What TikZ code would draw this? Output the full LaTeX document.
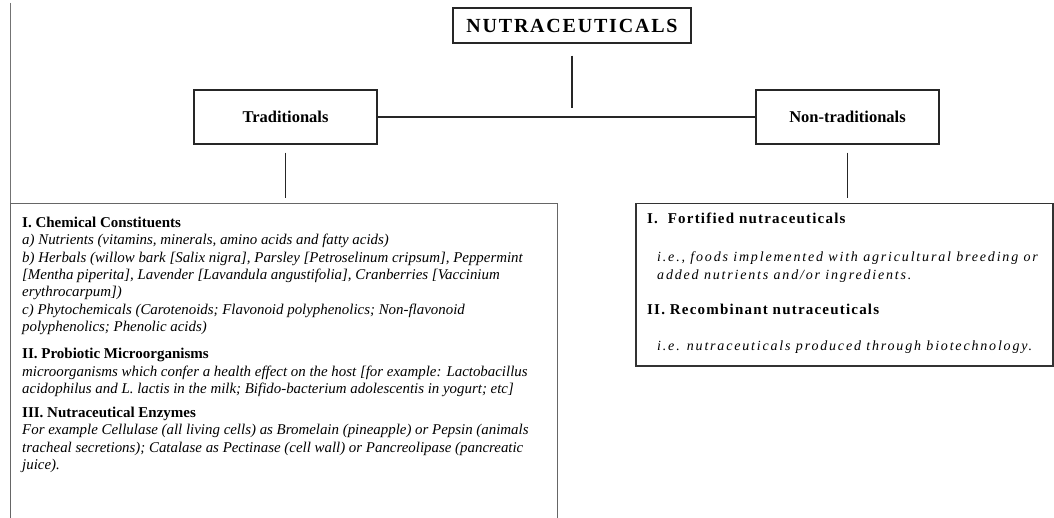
\documentclass[tikz,border=0pt]{standalone}
\usepackage{fontspec}
\setmainfont{Liberation Serif}
\newfontfamily\titlefont[LetterSpace=9]{Liberation Serif}
\newfontfamily\spacedfont[LetterSpace=8]{Liberation Serif}
\newfontfamily\widefont[LetterSpace=13]{Liberation Serif}

\begin{document}
\begin{tikzpicture}[x=1pt,y=-1pt,
  topbox/.style={draw=black!85,line width=1.3pt,fill=white,inner sep=0pt,minimum width=238pt,minimum height=35pt,font=\titlefont\bfseries\fontsize{20}{24}\selectfont},
  catbox/.style={draw=black!85,line width=1.3pt,fill=white,inner sep=0pt,minimum width=183pt,minimum height=54pt,font=\bfseries\fontsize{16.5}{20}\selectfont},
  listbox/.style={draw=black!80,line width=1.1pt,fill=white,inner sep=0pt,anchor=north west},
  listtext/.style={anchor=north west,align=left,inner sep=0pt,font=\itshape\fontsize{14.9}{17.3}\selectfont},
  link/.style={draw=black!85,line width=1.1pt}
]
\clip (0,0) rectangle (1054,518);
\fill[white] (0,0) rectangle (1054,518);

\node[topbox] (nutra) at (572,25.5) {NUTRACEUTICALS};
\node[catbox] (trad) at (285.5,117) {Traditionals};
\node[catbox] (nontrad) at (847.5,117) {Non-traditionals};

\node[listbox,draw=black!60,minimum width=547pt,minimum height=330pt] (tradlist) at (10,203) {};
\node[listbox,line width=1.5pt,minimum width=417pt,minimum height=162pt] (ntlist) at (635,203) {};
\coordinate (edge) at (10,3);

\node[listtext] (tradtext) at (22,217) {%
{\upshape\bfseries\fontsize{15}{17.3}\selectfont I. Chemical Constituents}\\
a) Nutrients (vitamins, minerals, amino acids and fatty acids)\\
b) Herbals (willow bark [Salix nigra], Parsley [Petroselinum cripsum], Peppermint\\
{}[Mentha piperita], Lavender [Lavandula angustifolia], Cranberries [Vaccinium\\
erythrocarpum])\\
c) Phytochemicals (Carotenoids; Flavonoid polyphenolics; Non-flavonoid\\
polyphenolics; Phenolic acids)\\[10pt]
{\upshape\bfseries\fontsize{15}{17.3}\selectfont II. Probiotic Microorganisms}\\
microorganisms which confer a health effect on the host [for example: Lactobacillus\\
acidophilus and L. lactis in the milk; Bifido-bacterium adolescentis in yogurt; etc]\\[7pt]
{\upshape\bfseries\fontsize{15}{17.3}\selectfont III. Nutraceutical Enzymes}\\
For example Cellulase (all living cells) as Bromelain (pineapple) or Pepsin (animals\\
tracheal secretions); Catalase as Pectinase (cell wall) or Pancreolipase (pancreatic\\
juice).};

\node[listtext,font=\widefont\itshape\fontsize{14}{18}\selectfont] (nttext) at (647,213) {%
{\spacedfont\upshape\bfseries\fontsize{15}{18}\selectfont I.\ \ Fortified nutraceuticals}\\[20pt]
\hspace*{10pt}i.e., foods implemented with agricultural breeding or\\
\hspace*{10pt}added nutrients and/or ingredients.\\[17pt]
{\spacedfont\upshape\bfseries\fontsize{15}{18}\selectfont II. Recombinant nutraceuticals}\\[18pt]
\hspace*{10pt}i.e. nutraceuticals produced through biotechnology.};

\draw[link,shorten <=12pt,shorten >=9pt] (nutra.south) -- (nutra.south |- trad.east);
\draw[link] (trad.east) -- (nontrad.west);
\draw[link,shorten <=8pt,shorten >=5pt] (trad.south) -- (trad.south |- tradlist.north);
\draw[link,shorten <=8pt,shorten >=5pt] (nontrad.south) -- (nontrad.south |- ntlist.north);
\draw[draw=black!55,line width=1pt] (edge) -- (tradlist.north west);
\end{tikzpicture}
\end{document}
